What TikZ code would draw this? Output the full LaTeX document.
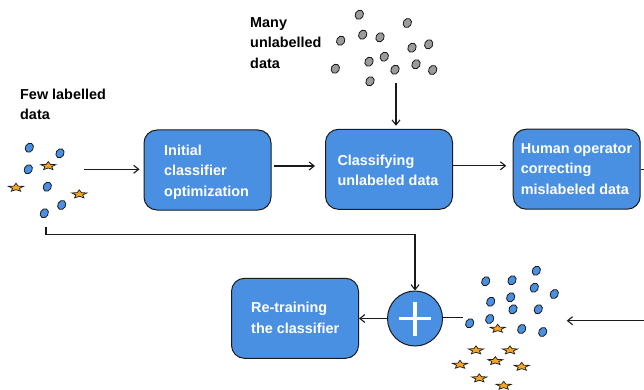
\documentclass[tikz,border=0pt]{standalone}
\usepackage{fontspec}
\setmainfont{Liberation Sans}
\usetikzlibrary{arrows.meta}

\definecolor{boxblue}{HTML}{4A90E2}
\definecolor{starorange}{HTML}{F5A623}
\definecolor{dotgray}{HTML}{9B9B9B}
\definecolor{linedark}{HTML}{1A1A1A}

\begin{document}
\begin{tikzpicture}[x=1pt,y=-1pt,
  box/.style={draw=linedark, line width=1pt, fill=boxblue, rounded corners=13pt,
    minimum width=127pt, minimum height=80pt, inner sep=0pt},
  boxtext/.style={text=white, font=\bfseries\fontsize{14.4}{20.5}\selectfont,
    align=left, inner sep=0pt, anchor=west},
  caption/.style={text=black, font=\bfseries\fontsize{14.4}{20.5}\selectfont,
    align=left, inner sep=0pt, anchor=west},
  arr/.style={draw=linedark, line width=1.1pt, -{Straight Barb[length=5pt,width=8pt]}},
  link/.style={draw=linedark, line width=1.1pt},
  bdot/.pic={\draw[fill=boxblue, draw=linedark, line width=0.8pt, rotate=-30]
    (0,0) ellipse [x radius=3.9, y radius=4.8];},
  gdot/.pic={\draw[fill=dotgray, draw=linedark, line width=0.8pt, rotate=-30]
    (0,0) ellipse [x radius=4.0, y radius=4.8];},
  ostar/.pic={\draw[fill=starorange, draw=linedark, line width=0.7pt, yscale=0.55]
    (270:8) -- (306:3.6) -- (342:8) -- (18:3.6) -- (54:8) -- (90:3.6)
    -- (126:8) -- (162:3.6) -- (198:8) -- (234:3.6) -- cycle;}
]
\useasboundingbox (0,0) rectangle (644,390);

% process boxes
\node[box] (b1) at (207.5,170) {};
\node[box] (b2) at (389,169.3) {};
\node[box] (b3) at (576.7,169.2) {};
\node[box] (b4) at (295,318.3) {};
\node[boxtext] (t1) at (164,171.8) {Initial\\classifier\\optimization};
\node[boxtext] (t2) at (337.3,170.2) {Classifying\\unlabeled data};
\node[boxtext] (t3) at (520.7,169) {Human operator\\correcting\\mislabeled data};
\node[boxtext] (t4) at (251,317.8) {Re-training\\the classifier};

% merge node
\node[circle, draw=linedark, fill=boxblue, line width=1pt, minimum size=55pt,
  inner sep=0pt] (plus) at (415,318.5) {};
\draw[white, line width=3.3pt] ([xshift=-16pt]plus.center) -- ([xshift=16pt]plus.center);
\draw[white, line width=3.3pt] ([yshift=-17pt]plus.center) -- ([yshift=17pt]plus.center);

% captions
\node[caption] (fewcap) at (20,104.5) {Few labelled\\data};
\node[caption] (manycap) at (250,43) {Many\\unlabelled\\data};

% labelled samples
\foreach \p in {(29.3,147.7),(60,153.3),(28.3,169.3),(47.3,186.7),(61.7,205),(44.3,213.3)}
  \pic at \p {bdot};
\foreach \p in {(48.3,166),(16,187.7),(79.3,194.3)}
  \pic at \p {ostar};

% unlabelled samples
\foreach \p in {(359.3,14.7),(407.3,23),(340.7,40.7),(362.7,34.7),(380,37.3),(412,47.7),
  (428.7,44.3),(384.3,56.7),(369,61.7),(335.3,68.7),(395,69.7),(416,64.3),(432.7,70),(370,81.3)}
  \pic at \p {gdot};

% corrected samples
\foreach \p in {(536.3,270.7),(485.7,281.3),(512,280.3),(534.3,287.7),(554.3,294),(490.7,301.7),
  (510.7,297.3),(513,309.3),(538.3,309.3),(469.7,323.3),(489.7,319),(521.7,329),(542.7,332)}
  \pic at \p {bdot};
\foreach \p in {(497.7,328.7),(476,350.3),(510,350.3),(460,364.7),(495.3,361),(521.7,366.7),
  (479.3,378.3),(503.7,385.7)}
  \pic at \p {ostar};

% connector ends at the sample groups
\coordinate (fewout) at (84,169.3);
\coordinate (fewdown) at (46,227);
\coordinate (manyout) at (396,83);
\coordinate (cluin) at (566.7,320.7);
\coordinate (cluout) at (463,317.7);

% connectors
\draw[arr, shorten >=4pt] (fewout) -- (fewout -| b1.west);
\draw[arr, shorten <=2pt, shorten >=10pt] ([yshift=4pt]b1.east) -- ([yshift=4pt]b1.east -| b2.west);
\draw[arr, shorten >=6.5pt] ([yshift=3.5pt]b2.east) -- ([yshift=3.5pt]b2.east -| b3.west);
\draw[arr, shorten >=3pt] (manyout) -- (manyout |- b2.north);
\draw[arr] (b3.east) -- ++(25,0) |- (cluin);
\draw[arr] (fewdown) -- ++(0,7.5) -| (plus.north);
\draw[link] (cluout) -- (cluout -| plus.east);
\draw[arr] (plus.west) -- (plus.west -| b4.east);
\end{tikzpicture}
\end{document}
